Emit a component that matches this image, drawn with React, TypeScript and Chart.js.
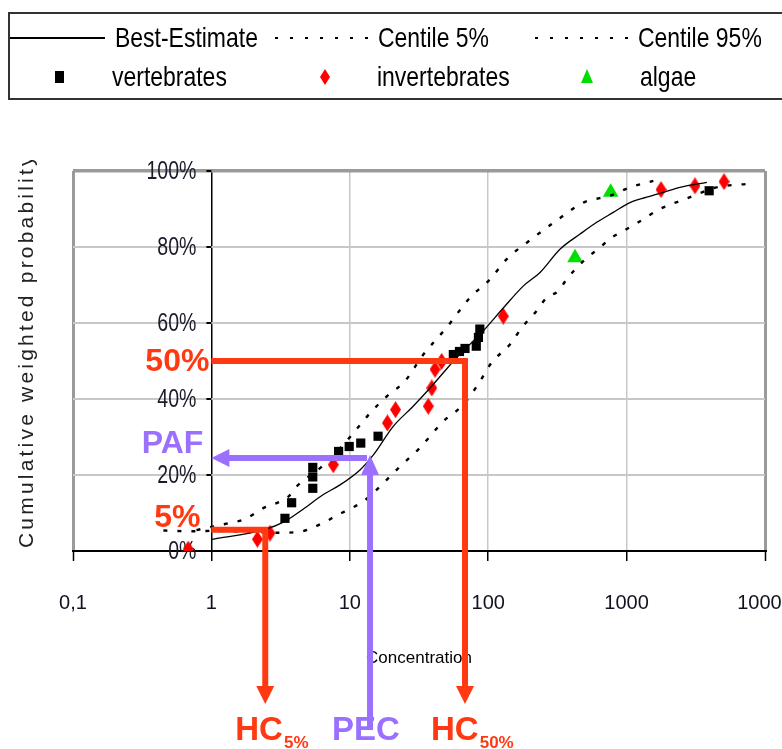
import React, { useEffect, useRef } from 'react';
import { Chart, registerables } from 'chart.js';

Chart.register(...registerables);

// ---- axes ----
const xTickValues = [0.1, 1, 10, 100, 1000, 10000];
const xTickLabels = ['0,1', '1', '10', '100', '1000', '10000'];
const yTickValues = [0, 20, 40, 60, 80, 100];

// ---- Best-Estimate curve ----
const beConc = [1, 2.4, 3.4, 4.6, 6.4, 8.5, 11.9, 14.8, 20.6, 28.7, 38, 47.4, 57.5, 92, 129, 179, 237, 330, 461, 608, 801, 1058, 1397, 1842, 2430, 3800];
const bePct = [3.0, 5.6, 7.8, 11, 14.8, 17.4, 21.4, 25.3, 32.8, 38.1, 42.9, 46.9, 50.4, 57.9, 64, 69.7, 73.3, 79.4, 83.4, 86.5, 89.1, 91.7, 93.1, 94.4, 95.7, 97];

// ---- Centile 5% (upper / left curve) ----
const c5Conc = [0.78, 1.32, 1.75, 2.37, 2.96, 3.6, 4.13, 6.1, 8.5, 11.9, 14, 18.5, 25, 34, 50, 74, 103, 136, 206, 321, 487, 760, 1060, 1560];
const c5Pct = [5.5, 7.3, 8.4, 11.3, 12.6, 14.3, 17, 21.8, 27, 33.2, 36.3, 40.7, 44.7, 51.7, 58.8, 66.7, 71.5, 76.8, 82.1, 87.3, 91.7, 93.5, 95.7, 97.4];

// ---- Centile 95% (lower / right curve) ----
const c95Conc = [0.45, 0.7, 1, 2, 3, 4.4, 6.5, 8, 10.3, 12.5, 16, 19.5, 23, 32, 47, 66, 85, 106, 144, 175, 218, 265, 321, 369, 487, 643, 780, 946, 1216, 1742, 2642, 4477, 7400];
const c95Pct = [5.4, 5.2, 5.3, 5.0, 4.8, 5.1, 7.5, 9.3, 11.3, 13, 16.5, 19.6, 22.2, 27.1, 34, 38.5, 44, 49.6, 54.4, 58.8, 62.7, 66.7, 68.4, 71.5, 76.3, 79.9, 82.5, 84.2, 86.5, 90, 92.6, 95.7, 96.6];

// ---- species points ----
const vertConc = [3.4, 3.8, 5.4, 5.4, 5.4, 8.3, 9.9, 12.0, 16.0, 56, 62, 68, 82, 85, 87, 3950];
const vertPct = [8.6, 12.7, 16.5, 19.5, 22, 26.2, 27.5, 28.4, 30.2, 51.7, 52.5, 53.3, 53.9, 56.2, 58.4, 94.8];

const invConc = [0.68, 2.15, 2.65, 7.6, 18.7, 21.4, 36.9, 39.1, 41.3, 46.1, 128.5, 1774, 3119, 5058];
const invPct = [0.5, 3.1, 4.7, 22.7, 33.7, 37.2, 38.1, 42.9, 47.8, 49.9, 61.8, 95.1, 96.1, 97.2];

const algConc = [424, 767];
const algPct = [77.2, 94.4];

// ---- annotations ----
const HC5 = 2.45;
const HC5_LEVEL = 5.6;
const HC50 = 68;
const HC50_LEVEL = 50;
const PEC = 14;
const PAF = 24.5;

const RED = '#ff3a12';
const PURPLE = '#9b70ff';
const SANS = '"Liberation Sans", Arial, sans-serif';

const zip = (xs: number[], ys: number[]) => xs.map((x, i) => ({ x, y: ys[i] }));

function makeDiamond(w: number, h: number, color: string) {
  const c = document.createElement('canvas');
  c.width = w;
  c.height = h;
  const g = c.getContext('2d')!;
  g.fillStyle = color;
  g.beginPath();
  g.moveTo(w / 2, 0);
  g.lineTo(w, h / 2);
  g.lineTo(w / 2, h);
  g.lineTo(0, h / 2);
  g.closePath();
  g.fill();
  return c;
}

const yLabelsPlugin = {
  id: 'yLabels',
  beforeDatasetsDraw(chart: any) {
    const { ctx, scales } = chart;
    const x = scales.x;
    const y = scales.y;
    const ax = x.getPixelForValue(1);
    ctx.save();
    ctx.font = `25px ${SANS}`;
    ctx.fillStyle = '#1a1a2a';
    ctx.textAlign = 'right';
    ctx.textBaseline = 'middle';
    ctx.strokeStyle = '#000';
    ctx.lineWidth = 2;
    yTickValues.forEach((v) => {
      const py = y.getPixelForValue(v);
      ctx.save();
      ctx.translate(ax - 15, py + 1);
      ctx.scale(0.78, 1);
      ctx.fillText(`${v}%`, 0, 0);
      ctx.restore();
      ctx.beginPath();
      ctx.moveTo(ax - 5, py);
      ctx.lineTo(ax, py);
      ctx.stroke();
    });
    ctx.restore();
  },
};

const annotPlugin = {
  id: 'annot',
  afterDraw(chart: any) {
    const { ctx, scales, chartArea } = chart;
    const x = scales.x;
    const y = scales.y;
    const ax = x.getPixelForValue(1);
    const tip = chartArea.bottom + 153;
    const head = 18;
    const hw = 9;
    ctx.save();
    ctx.lineWidth = 6;
    ctx.lineJoin = 'miter';
    ctx.lineCap = 'butt';

    const downArrow = (xv: number, level: number, color: string) => {
      const px = x.getPixelForValue(xv);
      const py = y.getPixelForValue(level);
      ctx.strokeStyle = color;
      ctx.fillStyle = color;
      ctx.beginPath();
      ctx.moveTo(ax, py);
      ctx.lineTo(px, py);
      ctx.lineTo(px, tip - head + 2);
      ctx.stroke();
      ctx.beginPath();
      ctx.moveTo(px - hw, tip - head);
      ctx.lineTo(px + hw, tip - head);
      ctx.lineTo(px, tip);
      ctx.closePath();
      ctx.fill();
      return { px, py };
    };

    const p5 = downArrow(HC5, HC5_LEVEL, RED);
    const p50 = downArrow(HC50, HC50_LEVEL, RED);

    // PEC / PAF
    const pxp = x.getPixelForValue(PEC);
    const pyp = y.getPixelForValue(PAF);
    ctx.strokeStyle = PURPLE;
    ctx.fillStyle = PURPLE;
    ctx.beginPath();
    ctx.moveTo(pxp, chartArea.bottom + 176);
    ctx.lineTo(pxp, pyp + 14);
    ctx.stroke();
    ctx.beginPath();
    ctx.moveTo(pxp - hw, pyp + 17);
    ctx.lineTo(pxp + hw, pyp + 17);
    ctx.lineTo(pxp, pyp - 3);
    ctx.closePath();
    ctx.fill();
    ctx.beginPath();
    ctx.moveTo(pxp - 3, pyp);
    ctx.lineTo(ax + head - 2, pyp);
    ctx.stroke();
    ctx.beginPath();
    ctx.moveTo(ax + head, pyp - hw);
    ctx.lineTo(ax + head, pyp + hw);
    ctx.lineTo(ax, pyp);
    ctx.closePath();
    ctx.fill();

    // left labels
    ctx.font = `bold 32px ${SANS}`;
    ctx.textBaseline = 'middle';
    ctx.textAlign = 'right';
    ctx.fillStyle = RED;
    ctx.fillText('50%', ax - 2, p50.py + 1);
    ctx.fillText('5%', ax - 11, p5.py - 12);
    ctx.fillStyle = PURPLE;
    ctx.fillText('PAF', ax - 8, pyp - 14);

    // bottom labels
    const base = chartArea.bottom + 189;
    ctx.textBaseline = 'alphabetic';
    ctx.textAlign = 'left';
    const hcLabel = (px: number, sub: string) => {
      ctx.font = `bold 33px ${SANS}`;
      ctx.fillStyle = RED;
      const sx = px - 30;
      ctx.fillText('HC', sx, base);
      const w = ctx.measureText('HC').width;
      ctx.font = `bold 17px ${SANS}`;
      ctx.fillText(sub, sx + w + 1, base + 8);
    };
    hcLabel(p5.px, '5%');
    hcLabel(p50.px - 4, '50%');
    ctx.font = `bold 33px ${SANS}`;
    ctx.fillStyle = PURPLE;
    ctx.textAlign = 'center';
    ctx.fillText('PEC', pxp - 4, base);
    ctx.restore();
  },
};

export default function App() {
  const ref = useRef<HTMLCanvasElement>(null);

  useEffect(() => {
    const canvas = ref.current;
    if (!canvas) return;
    const diamond = makeDiamond(11, 17, '#ff0000');
    const chart = new Chart(canvas, {
      type: 'scatter',
      data: {
        datasets: [
          {
            label: 'Best-Estimate',
            data: zip(beConc, bePct),
            showLine: true,
            borderColor: '#000',
            borderWidth: 1.3,
            pointRadius: 0,
            cubicInterpolationMode: 'monotone',
          } as any,
          {
            label: 'Centile 5%',
            data: zip(c5Conc, c5Pct),
            showLine: true,
            borderColor: '#000',
            borderWidth: 2.4,
            borderDash: [4, 10],
            pointRadius: 0,
            cubicInterpolationMode: 'monotone',
          } as any,
          {
            label: 'Centile 95%',
            data: zip(c95Conc, c95Pct),
            showLine: true,
            borderColor: '#000',
            borderWidth: 2.4,
            borderDash: [4, 10],
            pointRadius: 0,
            cubicInterpolationMode: 'monotone',
          } as any,
          {
            label: 'vertebrates',
            data: zip(vertConc, vertPct),
            pointStyle: 'rect',
            pointRadius: 6.5,
            backgroundColor: '#000',
            borderWidth: 0,
          },
          {
            label: 'invertebrates',
            data: zip(invConc, invPct),
            pointStyle: diamond as any,
            pointRadius: 6,
            backgroundColor: '#ff0000',
            borderWidth: 0,
          },
          {
            label: 'algae',
            data: zip(algConc, algPct),
            pointStyle: 'triangle',
            pointRadius: 9,
            backgroundColor: '#00e000',
            borderColor: '#00e000',
            borderWidth: 0,
          },
        ],
      },
      options: {
        animation: false,
        responsive: false,
        events: [],
        layout: { padding: { left: 73, top: 171, right: 17, bottom: 80 } },
        plugins: { legend: { display: false }, tooltip: { enabled: false } },
        scales: {
          x: {
            type: 'logarithmic',
            min: 0.1,
            max: 10000,
            afterBuildTicks: (s: any) => {
              s.ticks = xTickValues.map((v) => ({ value: v }));
            },
            afterFit: (s: any) => {
              s.height = 118;
              s.paddingLeft = 0;
              s.paddingRight = 0;
            },
            ticks: {
              autoSkip: false,
              maxRotation: 0,
              padding: 30,
              color: '#111122',
              font: { family: SANS, size: 20 },
              callback: (_v: any, i: number) => xTickLabels[i],
            },
            grid: {
              color: (c: any) => {
                const v = c.tick?.value;
                if (v === 1) return '#000';
                if (v === 0.1 || v === 10000) return '#9a9a9a';
                return '#c8c8c8';
              },
              lineWidth: (c: any) => {
                const v = c.tick?.value;
                if (v === 1) return 1.5;
                if (v === 0.1 || v === 10000) return 3;
                return 1.5;
              },
              tickColor: '#000',
              tickWidth: 1.5,
              tickLength: 10,
            },
            border: { color: '#000', width: 2 },
            title: {
              display: true,
              text: 'Concentration',
              color: '#000',
              font: { family: SANS, size: 17 },
              padding: 0,
            },
          } as any,
          y: {
            min: 0,
            max: 100,
            afterBuildTicks: (s: any) => {
              s.ticks = yTickValues.map((v) => ({ value: v }));
            },
            afterFit: (s: any) => {
              s.width = 0;
            },
            ticks: { display: false },
            grid: {
              drawTicks: false,
              color: (c: any) => {
                const v = c.tick?.value;
                if (v === 0) return 'rgba(0,0,0,0)';
                if (v === 100) return '#9a9a9a';
                return '#c8c8c8';
              },
              lineWidth: (c: any) => (c.tick?.value === 100 ? 3.5 : 2),
            },
            border: { display: false },
          } as any,
        },
      },
      plugins: [yLabelsPlugin, annotPlugin],
    });
    return () => chart.destroy();
  }, []);

  const legendText: React.CSSProperties = {
    position: 'absolute',
    font: `28px ${SANS}`,
    lineHeight: '28px',
    color: '#000',
    whiteSpace: 'nowrap',
    transform: 'scaleX(0.82)',
    transformOrigin: 'left center',
  };
  const dotted = (left: number): React.CSSProperties => ({
    position: 'absolute',
    left,
    top: 37,
    width: 93,
    height: 2,
    background: 'repeating-linear-gradient(to right, #000 0 3px, transparent 3px 15px)',
  });

  return (
    <div style={{ position: 'absolute', left: 0, top: 0, width: 782, height: 749, overflow: 'hidden', background: '#fff' }}>
      <canvas ref={ref} width={782} height={749} style={{ position: 'absolute', left: 0, top: 0, width: 782, height: 749 }} />
      {/* legend box */}
      <div
        style={{
          position: 'absolute',
          left: 8,
          top: 12,
          width: 790,
          height: 88,
          boxSizing: 'border-box',
          border: '2px solid #333',
        }}
      />
      <div style={{ position: 'absolute', left: 10, top: 37, width: 95, height: 2, background: '#000' }} />
      <span style={{ ...legendText, left: 115, top: 24 }}>Best-Estimate</span>
      <div style={dotted(275)} />
      <span style={{ ...legendText, left: 378, top: 24 }}>Centile 5%</span>
      <div style={dotted(535)} />
      <span style={{ ...legendText, left: 638, top: 24 }}>Centile 95%</span>

      <div style={{ position: 'absolute', left: 55, top: 71, width: 9, height: 12, background: '#000' }} />
      <span style={{ ...legendText, left: 112, top: 63 }}>vertebrates</span>
      <svg style={{ position: 'absolute', left: 320, top: 69 }} width={10} height={16}>
        <polygon points="5,0 10,8 5,16 0,8" fill="#ff0000" />
      </svg>
      <span style={{ ...legendText, left: 377, top: 63 }}>invertebrates</span>
      <svg style={{ position: 'absolute', left: 581, top: 69 }} width={12} height={14}>
        <polygon points="6,0 12,14 0,14" fill="#00dd00" />
      </svg>
      <span style={{ ...legendText, left: 640, top: 63 }}>algae</span>

      {/* y-axis title */}
      <div style={{ position: 'absolute', left: 0, top: 160, width: 60, height: 420, overflow: 'hidden' }}>
        <div
          style={{
            position: 'absolute',
            left: 15,
            top: 388,
            transform: 'rotate(-90deg)',
            transformOrigin: 'left top',
            whiteSpace: 'nowrap',
            font: `21px ${SANS}`,
            lineHeight: '22px',
            letterSpacing: '3.2px',
            color: '#222',
          }}
        >
          Cumulative weighted probability
        </div>
      </div>
    </div>
  );
}
